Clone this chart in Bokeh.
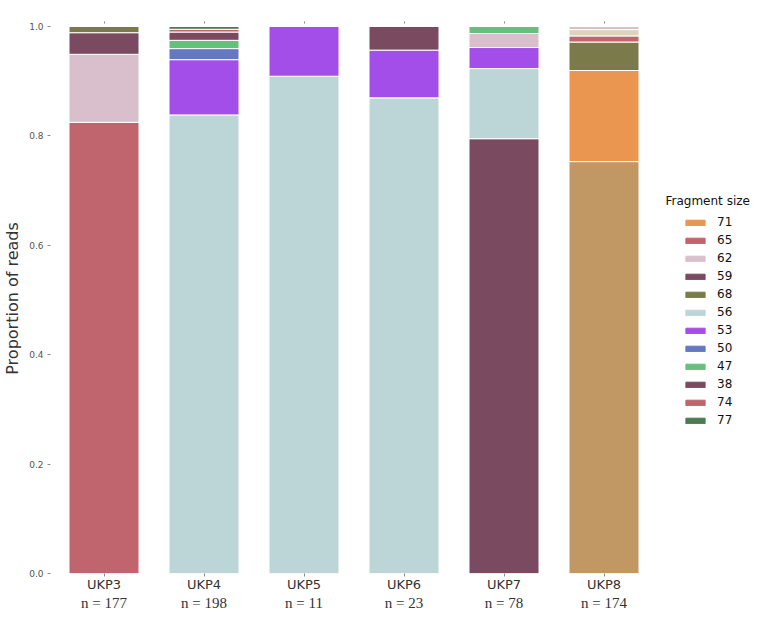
from bokeh.plotting import figure
from bokeh.models import (Range1d, FixedTicker, LinearAxis, Legend, LegendItem,
                          Label, NumeralTickFormatter)
from bokeh.embed import file_html
from bokeh.resources import INLINE

# ---------------- data ----------------
samples = ["UKP3", "UKP4", "UKP5", "UKP6", "UKP7", "UKP8"]
n_reads = [177, 198, 11, 23, 78, 174]

# legend order (fragment sizes) and colours
sizes = ["71", "65", "62", "59", "68", "56", "53", "50", "47", "38", "74", "77"]
colors = ["#eb9650", "#c0646e", "#d9bfcb", "#7a4a60", "#7a7a4a", "#bcd6d8",
          "#a44ee9", "#6478c2", "#64c07c", "#7a4a60", "#c0646e", "#4b7b50"]

# read counts per fragment size, one value per sample (UKP3..UKP8)
counts_71 = [0, 0, 0, 0, 0, 29]
counts_65 = [146, 0, 0, 0, 0, 2]
counts_62 = [22, 0, 0, 0, 2, 1]
counts_59 = [7, 0, 0, 1, 62, 0]
counts_68 = [2, 0, 0, 0, 0, 9]
counts_56 = [0, 166, 10, 20, 10, 0]
counts_53 = [0, 20, 1, 2, 3, 0]
counts_50 = [0, 4, 0, 0, 0, 0]
counts_47 = [0, 3, 0, 0, 1, 0]
counts_38 = [0, 3, 0, 0, 0, 0]
counts_74 = [0, 1, 0, 0, 0, 0]
counts_77 = [0, 1, 0, 0, 0, 0]
# two segments of UKP8 that have no legend entry
counts_unlisted_a = [0, 0, 0, 0, 0, 131]
counts_unlisted_b = [0, 0, 0, 0, 0, 2]
unlisted_colors = ["#c19864", "#dad6bc"]

series_counts = [counts_71, counts_65, counts_62, counts_59, counts_68, counts_56,
                 counts_53, counts_50, counts_47, counts_38, counts_74, counts_77,
                 counts_unlisted_a, counts_unlisted_b]
series_colors = colors + unlisted_colors

y_ticks = [0.0, 0.2, 0.4, 0.6, 0.8, 1.0]

# ---------------- stacking (largest share at the bottom of each bar) ----------------
nser = len(series_counts)
nsamp = len(samples)
bottoms = [[0.0] * nsamp for _ in range(nser)]
tops = [[0.0] * nsamp for _ in range(nser)]
for j in range(nsamp):
    order = sorted(range(nser), key=lambda i: -series_counts[i][j])
    cum = 0.0
    for i in order:
        frac = series_counts[i][j] / n_reads[j]
        bottoms[i][j] = cum
        cum += frac
        tops[i][j] = cum

FONT = "DejaVu Sans"
BAR_AREA_W = 607          # pixels spanned by the six bar slots
FRAME_W = 708             # frame also holds the legend on its right side
FRAME_H = 550
x_start = -0.535
x_end = x_start + (x_start * -2 + 5) * FRAME_W / BAR_AREA_W
p = figure(frame_width=FRAME_W, frame_height=FRAME_H, output_backend="svg",
           toolbar_location=None,
           x_range=Range1d(x_start, x_end), y_range=Range1d(0, 1.0055),
           min_border_left=41, min_border_right=0, min_border_top=23,
           min_border_bottom=5)
p.outline_line_color = None
p.xgrid.visible = False
p.ygrid.visible = False
p.background_fill_color = "white"
p.border_fill_color = "white"

xpos = list(range(nsamp))
for i in range(nser):
    idx = [j for j in range(nsamp) if series_counts[i][j] > 0]
    p.vbar(x=[xpos[j] for j in idx], bottom=[bottoms[i][j] for j in idx],
           top=[tops[i][j] for j in idx], width=0.7,
           fill_color=series_colors[i], line_color="white", line_width=1)

# legend swatches (solid patches, no white edge); NaN data -> nothing drawn in the frame
nan = float("nan")
swatches = [p.vbar(x=[nan], top=[nan], width=0.7, fill_color=c, line_color=c,
                   line_width=1) for c in colors]

# y axis
yax = p.yaxis[0]
yax.ticker = FixedTicker(ticks=y_ticks)
yax.formatter = NumeralTickFormatter(format="0.0")
yax.axis_label = "Proportion of reads"
yax.axis_label_text_font = FONT
yax.axis_label_text_font_size = "16px"
yax.axis_label_text_font_style = "normal"
yax.axis_label_text_color = "#333333"
yax.axis_label_standoff = 4
yax.major_label_text_font = FONT
yax.major_label_text_font_size = "9px"
yax.major_label_text_color = "#555555"
yax.major_label_standoff = 4
yax.axis_line_color = None
yax.major_tick_in = 0
yax.major_tick_out = 3
yax.major_tick_line_color = "#888888"
yax.minor_tick_line_color = None

# x axis: sample names
xax = p.xaxis[0]
xax.ticker = FixedTicker(ticks=xpos)
xax.major_label_overrides = {j: samples[j] for j in xpos}
xax.major_label_text_font = FONT
xax.major_label_text_font_size = "13px"
xax.major_label_text_color = "#333333"
xax.major_label_standoff = 0
xax.axis_line_color = None
xax.major_tick_in = 0
xax.major_tick_out = 3
xax.major_tick_line_color = "#888888"
xax.minor_tick_line_color = None

# second row: read numbers
nax = LinearAxis(ticker=FixedTicker(ticks=xpos),
                 major_label_overrides={j: "n = %d" % n_reads[j] for j in xpos})
nax.major_label_text_font = "Liberation Serif"
nax.major_label_text_font_size = "15px"
nax.major_label_text_color = "#333333"
nax.major_label_standoff = 0
nax.axis_line_color = None
nax.major_tick_in = 0
nax.major_tick_out = 0
nax.major_tick_line_color = None
nax.minor_tick_line_color = None
nax.minor_tick_out = 0
p.add_layout(nax, "below")

# top ticks
tax = LinearAxis(ticker=FixedTicker(ticks=xpos),
                 major_label_overrides={j: "" for j in xpos})
tax.major_label_text_font_size = "0px"
tax.major_label_standoff = 0
tax.axis_line_color = None
tax.major_tick_in = 0
tax.major_tick_out = 2
tax.major_tick_line_color = "#888888"
tax.minor_tick_line_color = None
tax.minor_tick_out = 0
p.add_layout(tax, "above")

# legend (right part of the frame, beside the bars)
items = [LegendItem(label=sizes[i], renderers=[swatches[i]]) for i in range(len(sizes))]
legend = Legend(items=items, location=(BAR_AREA_W + 26, 145), padding=0, margin=0,
                glyph_width=24, glyph_height=7, label_height=16, spacing=2,
                label_standoff=10, label_text_font=FONT,
                label_text_font_size="12px", label_text_color="#111111",
                border_line_color=None, background_fill_alpha=0)
p.add_layout(legend, "center")

title = Label(x=BAR_AREA_W + 8, y=373, x_units="screen", y_units="screen",
              text="Fragment size", text_font=FONT, text_font_size="12px",
              text_color="#111111", text_baseline="middle", text_align="left")
p.add_layout(title)

open("out.html", "w").write(file_html(p, INLINE))
